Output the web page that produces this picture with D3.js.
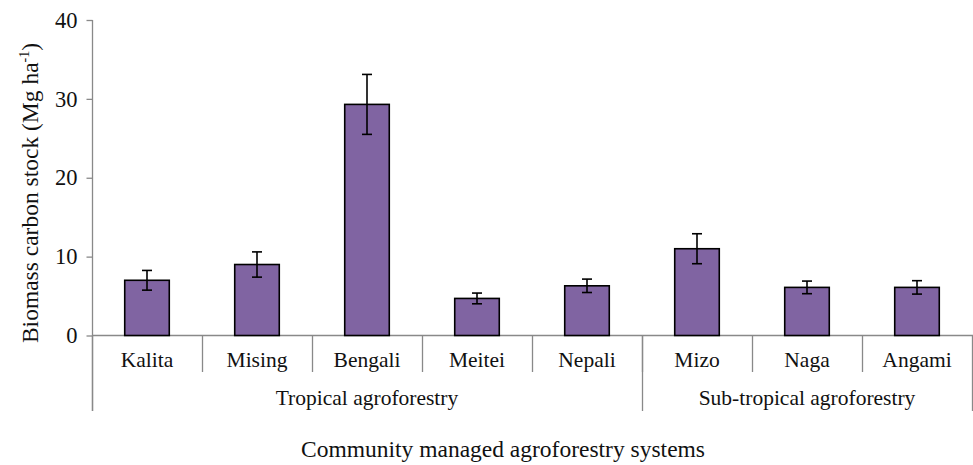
<!DOCTYPE html>
<html>
<head>
<meta charset="utf-8">
<script src="https://cdn.jsdelivr.net/npm/d3@7"></script>
<style>
  html, body { margin: 0; padding: 0; background: #fff; }
  svg { display: block; }
  svg text { font-family: "Liberation Serif", "Times New Roman", serif; }
</style>
</head>
<body>
<svg id="chart" width="973" height="465"></svg>
<script>
// Biomass carbon stock by community agroforestry system
const communities = ["Kalita", "Mising", "Bengali", "Meitei", "Nepali", "Mizo", "Naga", "Angami"];
const carbonStock = [7.0, 9.0, 29.3, 4.7, 6.3, 11.0, 6.1, 6.1];
const stdError    = [1.25, 1.6, 3.8, 0.68, 0.85, 1.9, 0.8, 0.85];
const systemGroups = ["Tropical agroforestry", "Sub-tropical agroforestry"];
const groupMembers = [5, 3];
const yTicks = [0, 10, 20, 30, 40];

const svg = d3.select("#chart");
const axisColor = "#898989";
const textColor = "#111";
const labelSize = 21.5;
const tickSize = 22.5;
const titleSize = 23.5;

const x = d3.scaleBand().domain(communities).range([92, 972]).paddingInner(0).paddingOuter(0);
const y = d3.scaleLinear().domain([0, 40]).range([335.5, 20]);

const barW = x.bandwidth() * 0.405;

// Y axis
const yAxis = d3.axisLeft(y).tickValues(yTicks).tickSize(6).tickPadding(9).tickFormat(d3.format("d"));
const gy = svg.append("g").attr("transform", "translate(92.5,0)").call(yAxis);
gy.attr("font-family", null).attr("font-size", null);
gy.select(".domain").remove();
gy.selectAll(".tick line").attr("stroke", axisColor).attr("stroke-width", 1.3);
gy.selectAll(".tick text").attr("font-size", tickSize).attr("fill", textColor);

// vertical axis line continuing down to the group separator depth
svg.append("line").attr("x1", 92.5).attr("x2", 92.5).attr("y1", y(40)).attr("y2", 411)
  .attr("stroke", axisColor).attr("stroke-width", 1.3);

// X baseline
svg.append("line").attr("x1", 92).attr("x2", 973).attr("y1", y(0)).attr("y2", y(0))
  .attr("stroke", axisColor).attr("stroke-width", 1.3);

// Category separators
communities.slice(1).forEach(c => {
  const xp = Math.round(x(c)) + 0.5;
  svg.append("line").attr("x1", xp).attr("x2", xp).attr("y1", y(0)).attr("y2", 372)
    .attr("stroke", axisColor).attr("stroke-width", 1.3);
});

// Group separators and labels
let idx = 0;
const groupEdges = [0];
groupMembers.forEach(n => { idx += n; groupEdges.push(idx); });
groupEdges.forEach(i => {
  const xp = i < communities.length ? Math.round(x(communities[i])) + 0.5 : 972.5;
  svg.append("line").attr("x1", xp).attr("x2", xp).attr("y1", y(0)).attr("y2", 411)
    .attr("stroke", axisColor).attr("stroke-width", 1.3);
});
systemGroups.forEach((g, i) => {
  const x0 = x(communities[groupEdges[i]]);
  const last = communities[groupEdges[i + 1] - 1];
  const x1 = x(last) + x.bandwidth();
  svg.append("text").attr("x", (x0 + x1) / 2).attr("y", 405)
    .attr("text-anchor", "middle").attr("font-size", labelSize).attr("fill", textColor).text(g);
});

// Category labels
svg.selectAll(".cat").data(communities).enter().append("text")
  .attr("class", "cat")
  .attr("x", d => x(d) + x.bandwidth() / 2)
  .attr("y", 367)
  .attr("text-anchor", "middle").attr("font-size", labelSize).attr("fill", textColor)
  .text(d => d);

// Bars
const data = communities.map((c, i) => ({ c, v: carbonStock[i], e: stdError[i] }));
svg.selectAll(".bar").data(data).enter().append("rect")
  .attr("class", "bar")
  .attr("x", d => x(d.c) + x.bandwidth() / 2 - barW / 2)
  .attr("width", barW)
  .attr("y", d => y(d.v))
  .attr("height", d => y(0) - y(d.v))
  .attr("fill", "#8064A2")
  .attr("stroke", "#000").attr("stroke-width", 1.6);

// Error bars
const eb = svg.selectAll(".err").data(data).enter().append("g").attr("class", "err")
  .attr("stroke", "#000").attr("stroke-width", 1.6);
eb.append("line")
  .attr("x1", d => x(d.c) + x.bandwidth() / 2).attr("x2", d => x(d.c) + x.bandwidth() / 2)
  .attr("y1", d => y(d.v + d.e)).attr("y2", d => y(d.v - d.e));
eb.append("line")
  .attr("x1", d => x(d.c) + x.bandwidth() / 2 - 5).attr("x2", d => x(d.c) + x.bandwidth() / 2 + 5)
  .attr("y1", d => y(d.v + d.e)).attr("y2", d => y(d.v + d.e));
eb.append("line")
  .attr("x1", d => x(d.c) + x.bandwidth() / 2 - 5).attr("x2", d => x(d.c) + x.bandwidth() / 2 + 5)
  .attr("y1", d => y(d.v - d.e)).attr("y2", d => y(d.v - d.e));

// Axis titles
const yt = svg.append("text")
  .attr("transform", "translate(37.5,193) rotate(-90)")
  .attr("text-anchor", "middle").attr("font-size", titleSize).attr("fill", textColor);
yt.append("tspan").text("Biomass carbon stock (Mg ha");
yt.append("tspan").attr("font-size", 14).attr("dy", -9).text("-1");
yt.append("tspan").attr("dy", 9).text(")");

svg.append("text").attr("x", 503).attr("y", 457)
  .attr("text-anchor", "middle").attr("font-size", titleSize).attr("fill", textColor)
  .text("Community managed agroforestry systems");
</script>
</body>
</html>
